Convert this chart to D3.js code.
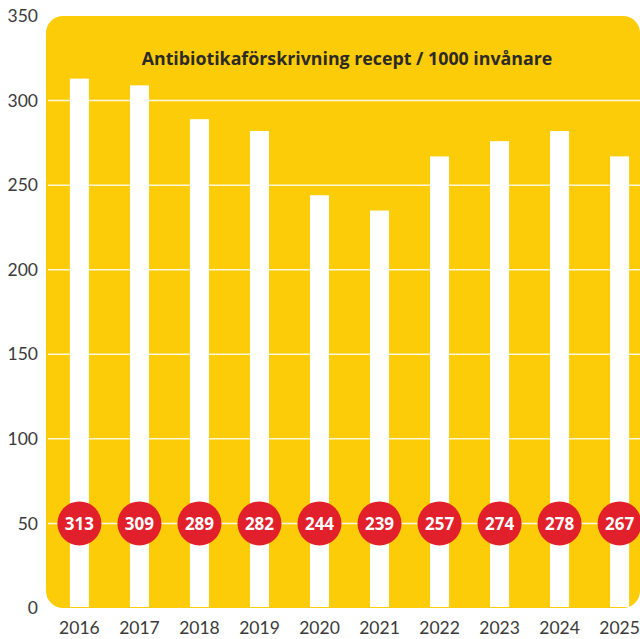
<!DOCTYPE html>
<html>
<head>
<meta charset="utf-8">
<script src="https://cdn.jsdelivr.net/npm/d3@7"></script>
<style>
  body { margin: 0; background: #fff; }
  svg { display: block; }
</style>
</head>
<body>
<svg width="640" height="639"></svg>
<script>
// data
var years = ["2016", "2017", "2018", "2019", "2020", "2021", "2022", "2023", "2024", "2025"];
var barValues = [313, 309, 289, 282, 244, 235, 267, 276, 282, 267];
var labelValues = [313, 309, 289, 282, 244, 239, 257, 274, 278, 267];
var yTicks = [0, 50, 100, 150, 200, 250, 300, 350];
var title = "Antibiotikaförskrivning recept / 1000 invånare";

var svg = d3.select("svg"),
    width = +svg.attr("width"),
    height = +svg.attr("height");

var panel = { left: 46, right: 640 };

// scales
var y = d3.scaleLinear().domain([0, 350]).range([608, 16]);
var x = d3.scaleBand().domain(years).range([49.5, 649.5]).paddingInner(0.683).paddingOuter(0.34);

// yellow panel
svg.append("rect")
    .attr("x", panel.left)
    .attr("y", y(350))
    .attr("width", panel.right - panel.left)
    .attr("height", y(0) - y(350))
    .attr("rx", 17)
    .attr("fill", "#fdcc08");

// gridlines
svg.append("g")
    .selectAll("line")
    .data(yTicks.filter(function (d) { return d > 0 && d < 350; }))
    .enter().append("line")
    .attr("x1", panel.left + 2)
    .attr("x2", panel.right)
    .attr("y1", function (d) { return y(d); })
    .attr("y2", function (d) { return y(d); })
    .attr("stroke", "#fff")
    .attr("stroke-opacity", 0.85)
    .attr("stroke-width", 1.5);

// bars
svg.append("g")
    .selectAll("rect")
    .data(barValues)
    .enter().append("rect")
    .attr("x", function (d, i) { return x(years[i]); })
    .attr("width", x.bandwidth())
    .attr("y", function (d) { return y(d); })
    .attr("height", function (d) { return y(0) - y(d) - 1; })
    .attr("fill", "#fff");

// title
svg.append("text")
    .attr("x", 347)
    .attr("y", 65)
    .attr("text-anchor", "middle")
    .attr("font-family", "'Open Sans', sans-serif")
    .attr("font-weight", "700")
    .attr("font-size", "17.8px")
    .attr("fill", "#2b2a26")
    .text(title);

// y axis labels
var yAxis = d3.axisLeft(y).tickValues(yTicks).tickSize(0).tickPadding(0);
svg.append("g")
    .attr("transform", "translate(38,0)")
    .call(yAxis)
    .call(function (g) { g.select(".domain").remove(); })
    .selectAll("text")
    .attr("font-family", "Lato, sans-serif")
    .attr("font-size", "17.5px")
    .attr("fill", "#3a3a3a");

// x axis labels
var xAxis = d3.axisBottom(x).tickSize(0).tickPadding(0);
svg.append("g")
    .attr("transform", "translate(0,622)")
    .call(xAxis)
    .call(function (g) { g.select(".domain").remove(); })
    .selectAll("text")
    .attr("font-family", "Lato, sans-serif")
    .attr("font-size", "17.5px")
    .attr("fill", "#3a3a3a");

// red value badges
var badges = svg.append("g")
    .selectAll("g")
    .data(labelValues)
    .enter().append("g")
    .attr("transform", function (d, i) {
        return "translate(" + (x(years[i]) + x.bandwidth() / 2) + "," + y(50) + ")";
    });
badges.append("circle")
    .attr("r", 22)
    .attr("fill", "#e2202b");
badges.append("text")
    .attr("text-anchor", "middle")
    .attr("dy", "0.36em")
    .attr("font-family", "'Open Sans', sans-serif")
    .attr("font-weight", "700")
    .attr("font-size", "17px")
    .attr("fill", "#fff")
    .text(function (d) { return d; });
</script>
</body>
</html>
